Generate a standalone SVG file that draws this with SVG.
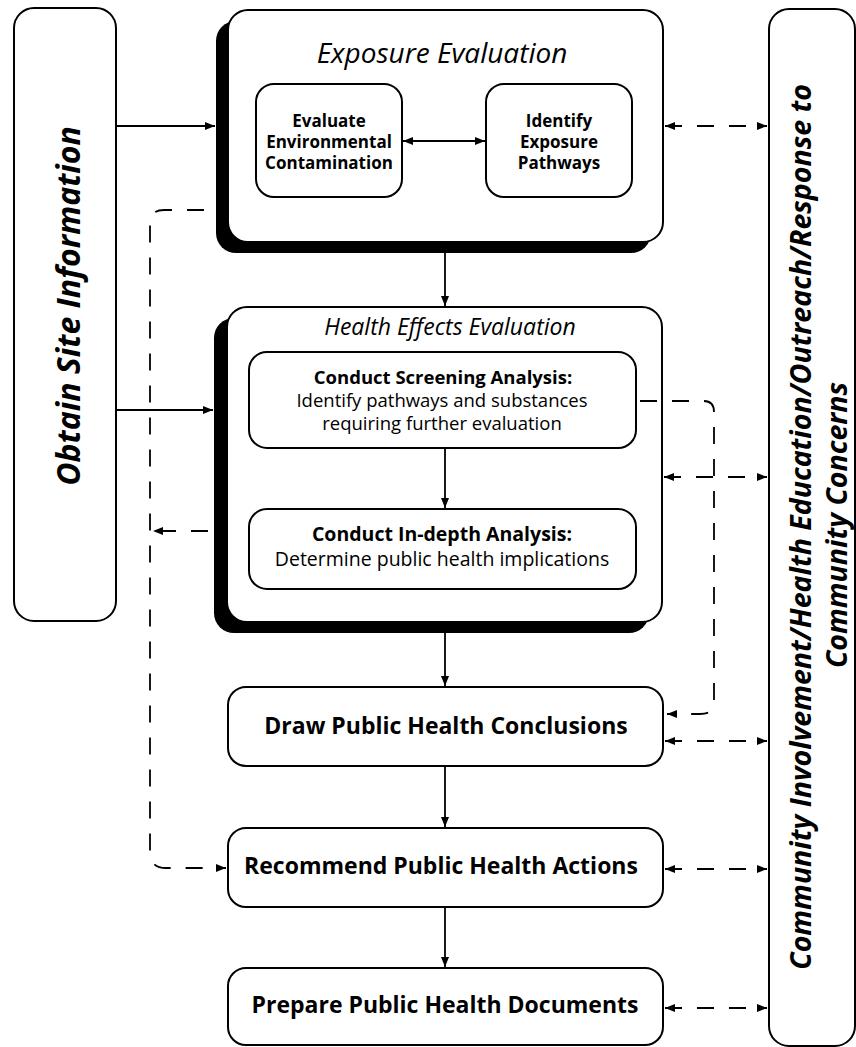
<svg xmlns="http://www.w3.org/2000/svg" width="856" height="1047" viewBox="0 0 856 1047">
<defs>
<marker id="ah" viewBox="0 0 10 8" refX="10" refY="4" markerWidth="11" markerHeight="8" markerUnits="userSpaceOnUse" orient="auto-start-reverse">
<path d="M0,0 L10,4 L0,8 Z" fill="#000"/>
</marker>
<style>
.box{fill:#fff;stroke:#000;stroke-width:2}
.shadow{fill:#000}
.t{font-family:"Open Sans","DejaVu Sans",sans-serif;fill:#000;text-anchor:middle}
.b{font-weight:bold}
.i{font-style:italic}
.ln{fill:none;stroke:#000;stroke-width:1.8}
.dl{fill:none;stroke:#000;stroke-width:1.8;stroke-dasharray:17 15}
</style>
</defs>
<rect width="856" height="1047" fill="#fff"/>

<g id="obtain">
<rect class="box" x="14" y="8" width="102" height="613" rx="20"/>
<text class="t b i" font-size="32" transform="translate(80,306) rotate(-90)">Obtain Site Information</text>
</g>

<g id="community">
<rect class="box" x="769" y="9" width="86" height="1037" rx="20"/>
<text class="t b i" font-size="28.5" transform="translate(811,527) rotate(-90)">Community Involvement/Health Education/Outreach/Response to</text>
<text class="t b i" font-size="28.5" transform="translate(847,525) rotate(-90)">Community Concerns</text>
</g>

<g id="exposure">
<rect class="shadow" x="216" y="21" width="435" height="232" rx="20"/>
<rect class="box" x="228" y="10" width="435" height="232" rx="20"/>
<text class="t i" font-size="28" x="442" y="63">Exposure Evaluation</text>
</g>

<g id="evaluate-env">
<rect class="box" x="256" y="84" width="146" height="113" rx="18"/>
<text class="t b" font-size="17"><tspan x="329" y="127">Evaluate</tspan><tspan x="329" y="148">Environmental</tspan><tspan x="329" y="169">Contamination</tspan></text>
</g>

<g id="identify-pathways">
<rect class="box" x="486" y="84" width="146" height="113" rx="18"/>
<text class="t b" font-size="17"><tspan x="559" y="127">Identify</tspan><tspan x="559" y="148">Exposure</tspan><tspan x="559" y="169">Pathways</tspan></text>
</g>

<g id="health-effects">
<rect class="shadow" x="214" y="318" width="435" height="315" rx="20"/>
<rect class="box" x="227" y="307" width="435" height="315" rx="20"/>
<text class="t i" font-size="23" x="450" y="335">Health Effects Evaluation</text>
</g>

<g id="screening">
<rect class="box" x="249" y="352" width="387" height="96" rx="18"/>
<text class="t" font-size="18.5"><tspan class="b" x="443" y="384">Conduct Screening Analysis:</tspan><tspan x="442" y="407">Identify pathways and substances</tspan><tspan x="442" y="430">requiring further evaluation</tspan></text>
</g>

<g id="indepth">
<rect class="box" x="249" y="509" width="387" height="80" rx="18"/>
<text class="t" font-size="19.5"><tspan class="b" x="442" y="541">Conduct In-depth Analysis:</tspan><tspan x="442" y="566">Determine public health implications</tspan></text>
</g>

<g id="conclusions">
<rect class="box" x="228" y="687" width="435" height="79" rx="18"/>
<text class="t b" font-size="23" x="446" y="734">Draw Public Health Conclusions</text>
</g>

<g id="recommend">
<rect class="box" x="228" y="828" width="435" height="79" rx="18"/>
<text class="t b" font-size="23" x="441" y="874">Recommend Public Health Actions</text>
</g>

<g id="prepare">
<rect class="box" x="228" y="968" width="435" height="77" rx="18"/>
<text class="t b" font-size="23" x="445" y="1013">Prepare Public Health Documents</text>
</g>

<g id="connectors">
<line class="ln" x1="116" y1="126" x2="215" y2="126" marker-end="url(#ah)"/>
<line class="ln" x1="116" y1="410" x2="213" y2="410" marker-end="url(#ah)"/>
<line class="ln" stroke-width="1.2" x1="403" y1="141" x2="485" y2="141" marker-start="url(#ah)" marker-end="url(#ah)"/>
<line class="ln" x1="445" y1="253" x2="445" y2="306" marker-end="url(#ah)"/>
<line class="ln" x1="445" y1="448" x2="445" y2="508" marker-end="url(#ah)"/>
<line class="ln" x1="445" y1="633" x2="445" y2="686" marker-end="url(#ah)"/>
<line class="ln" x1="445" y1="766" x2="445" y2="827" marker-end="url(#ah)"/>
<line class="ln" x1="445" y1="907" x2="445" y2="967" marker-end="url(#ah)"/>

<line class="dl" x1="665" y1="126" x2="767" y2="126" marker-start="url(#ah)" marker-end="url(#ah)"/>
<line class="dl" x1="664" y1="477" x2="767" y2="477" marker-start="url(#ah)" marker-end="url(#ah)"/>
<line class="dl" x1="665" y1="741" x2="767" y2="741" marker-start="url(#ah)" marker-end="url(#ah)"/>
<line class="dl" x1="665" y1="869" x2="767" y2="869" marker-start="url(#ah)" marker-end="url(#ah)"/>
<line class="dl" x1="665" y1="1008" x2="767" y2="1008" marker-start="url(#ah)" marker-end="url(#ah)"/>

<path class="dl" stroke-dasharray="18 18" d="M204,210 L164,210 Q150,210 150,224 L150,852 Q150,868 166,868 L226,868" marker-end="url(#ah)"/>
<path class="dl" stroke-dasharray="14 13" d="M208,531 L153,531" marker-end="url(#ah)"/>
<path class="dl" stroke-dasharray="18 18" d="M640,401 L704,401 Q714,401 714,412 L714,703 Q714,714 700,714 L667,714" marker-end="url(#ah)"/>
</g>
</svg>
